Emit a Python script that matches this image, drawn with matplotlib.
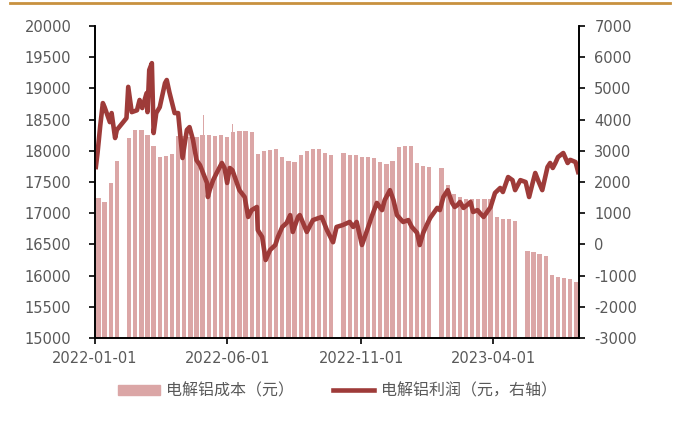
import numpy as np
import pandas as pd
import matplotlib
matplotlib.use("Agg")
import matplotlib.pyplot as plt
import matplotlib.dates as mdates
from matplotlib.lines import Line2D

plt.rcParams['font.family'] = ['DejaVu Sans']
plt.rcParams['axes.unicode_minus'] = False

# weekly cost (left axis), week given by its Monday
cost_weeks = ["2022-01-03", "2022-01-10", "2022-01-17", "2022-01-24",
              "2022-02-07", "2022-02-14", "2022-02-21", "2022-02-28",
              "2022-03-07", "2022-03-14", "2022-03-21", "2022-03-28",
              "2022-04-04", "2022-04-11", "2022-04-18", "2022-04-25",
              "2022-05-02", "2022-05-09", "2022-05-16", "2022-05-23",
              "2022-05-30", "2022-06-06", "2022-06-13", "2022-06-20",
              "2022-06-27", "2022-07-04", "2022-07-11", "2022-07-18",
              "2022-07-25", "2022-08-01", "2022-08-08", "2022-08-15",
              "2022-08-22", "2022-08-29", "2022-09-05", "2022-09-12",
              "2022-09-19", "2022-09-26", "2022-10-10", "2022-10-17",
              "2022-10-24", "2022-10-31", "2022-11-07", "2022-11-14",
              "2022-11-21", "2022-11-28", "2022-12-05", "2022-12-12",
              "2022-12-19", "2022-12-26", "2023-01-02", "2023-01-09",
              "2023-01-16", "2023-01-30", "2023-02-06", "2023-02-13",
              "2023-02-20", "2023-02-27", "2023-03-06", "2023-03-13",
              "2023-03-20", "2023-03-27", "2023-04-03", "2023-04-10",
              "2023-04-17", "2023-04-24", "2023-05-08", "2023-05-15",
              "2023-05-22", "2023-05-29", "2023-06-05", "2023-06-12",
              "2023-06-19", "2023-06-26", "2023-07-03"]
cost_values = [17250, 17180, 17480, 17830,
               18200, 18330, 18340, 18260,
               18080, 17900, 17920, 17950,
               18230, 18230, 18220, 18220,
               18250, 18250, 18240, 18250,
               18220, 18300, 18320, 18310,
               18300, 17950, 18000, 18020,
               18030, 17900, 17830, 17820,
               17930, 18000, 18030, 18030,
               17970, 17930, 17960, 17940,
               17930, 17900, 17900, 17880,
               17820, 17790, 17830, 18060,
               18070, 18070, 17800, 17750,
               17740, 17730, 17450, 17300,
               17260, 17230, 17230, 17230,
               17230, 17230, 16940, 16910,
               16900, 16880, 16400, 16380,
               16350, 16320, 16010, 15980,
               15960, 15950, 15900]

# single-day spikes in cost
spike_days = ["2022-03-30", "2022-05-05", "2022-06-07", "2022-08-30"]
spike_values = [18300, 18570, 18430, 18060]

# profit (right axis)
profit_dates = ["2022-01-02", "2022-01-04", "2022-01-07", "2022-01-10", "2022-01-12",
                "2022-01-18", "2022-01-20", "2022-01-24", "2022-01-26", "2022-02-06",
                "2022-02-08", "2022-02-12", "2022-02-18", "2022-02-21", "2022-02-24",
                "2022-03-01", "2022-03-02", "2022-03-04", "2022-03-07", "2022-03-09",
                "2022-03-12", "2022-03-16", "2022-03-22", "2022-03-24", "2022-03-27",
                "2022-04-02", "2022-04-06", "2022-04-11", "2022-04-16", "2022-04-19",
                "2022-04-23", "2022-04-27", "2022-05-01", "2022-05-09", "2022-05-10",
                "2022-05-12", "2022-05-16", "2022-05-20", "2022-05-26", "2022-05-29",
                "2022-06-01", "2022-06-04", "2022-06-07", "2022-06-15", "2022-06-21",
                "2022-06-25", "2022-06-29", "2022-07-05", "2022-07-06", "2022-07-11",
                "2022-07-15", "2022-07-20", "2022-07-26", "2022-07-29", "2022-08-03",
                "2022-08-08", "2022-08-12", "2022-08-15", "2022-08-21", "2022-08-23",
                "2022-08-31", "2022-09-07", "2022-09-17", "2022-09-23", "2022-09-30",
                "2022-10-04", "2022-10-11", "2022-10-19", "2022-10-23", "2022-10-27",
                "2022-11-02", "2022-11-08", "2022-11-13", "2022-11-19", "2022-11-25",
                "2022-11-28", "2022-12-04", "2022-12-08", "2022-12-12", "2022-12-19",
                "2022-12-25", "2022-12-29", "2023-01-04", "2023-01-07", "2023-01-11",
                "2023-01-15", "2023-01-19", "2023-01-27", "2023-01-30", "2023-02-03",
                "2023-02-08", "2023-02-13", "2023-02-16", "2023-02-19", "2023-02-22",
                "2023-02-26", "2023-03-02", "2023-03-06", "2023-03-09", "2023-03-14",
                "2023-03-17", "2023-03-21", "2023-03-25", "2023-03-29", "2023-04-03",
                "2023-04-09", "2023-04-12", "2023-04-18", "2023-04-23", "2023-04-26",
                "2023-05-02", "2023-05-08", "2023-05-12", "2023-05-16", "2023-05-19",
                "2023-05-23", "2023-05-27", "2023-06-02", "2023-06-05", "2023-06-08",
                "2023-06-11", "2023-06-14", "2023-06-20", "2023-06-25", "2023-06-28",
                "2023-07-04", "2023-07-07"]
profit_values = [2480, 2950, 3800, 4530, 4400,
                 3920, 4210, 3410, 3670, 4050,
                 5050, 4240, 4300, 4630, 4370,
                 4850, 4240, 5590, 5810, 3570,
                 4210, 4400, 5170, 5270, 4880,
                 4210, 4210, 2770, 3670, 3760,
                 3350, 2700, 2540, 1970, 1520,
                 1740, 2060, 2290, 2610, 2450,
                 1970, 2450, 2380, 1740, 1520,
                 880, 1100, 1200, 460, 240,
                 -500, -180, -20, 240, 560,
                 690, 940, 400, 880, 940,
                 400, 780, 880, 460, 70,
                 560, 620, 720, 560, 720,
                 -20, 460, 880, 1330, 1100,
                 1420, 1740, 1420, 940, 720,
                 780, 560, 370, -20, 370,
                 620, 850, 1170, 1100, 1520,
                 1740, 1330, 1200, 1260, 1360,
                 1170, 1260, 1360, 1040, 1100,
                 1000, 880, 1040, 1200, 1650,
                 1810, 1680, 2160, 2060, 1740,
                 2060, 2000, 1520, 1970, 2290,
                 2000, 1740, 2480, 2610, 2450,
                 2610, 2800, 2930, 2610, 2710,
                 2640, 2320]

x_ticks = ["2022-01-01", "2022-06-01", "2022-11-01", "2023-04-01"]

bar_color = '#DBA6A6'
line_color = '#9E3B39'
text_color = '#595959'

fig = plt.figure(figsize=(6.75, 4.21), dpi=100)
ax = fig.add_axes([0.1407, 0.1971, 0.7171, 0.7411])
ax2 = ax.twinx()

wk = mdates.date2num(pd.to_datetime(cost_weeks)) - 0.45
ax.bar(wk, np.array(cost_values) - 15000, bottom=15000, width=4.9,
       align='edge', color=bar_color, linewidth=0)
sp = mdates.date2num(pd.to_datetime(spike_days)) - 0.45
ax.bar(sp, np.array(spike_values) - 15000, bottom=15000, width=0.9,
       align='edge', color=bar_color, linewidth=0)

ax2.plot(pd.to_datetime(profit_dates), profit_values, color=line_color,
         linewidth=3.3, solid_joinstyle='round')

ax.set_xlim(mdates.date2num(pd.Timestamp("2022-01-01")),
            mdates.date2num(pd.Timestamp("2023-07-08")))
ax.set_ylim(15000, 20000)
ax.set_yticks(np.arange(15000, 20001, 500))
ax2.set_ylim(-3000, 7000)
ax2.set_yticks(np.arange(-3000, 7001, 1000))

xt = mdates.date2num(pd.to_datetime(x_ticks))
ax.set_xticks(xt)
ax.set_xticklabels(x_ticks)

for a in (ax, ax2):
    a.spines['top'].set_visible(False)
    for s in ('left', 'right', 'bottom'):
        a.spines[s].set_linewidth(1.2)
        a.spines[s].set_color('black')
ax.tick_params(axis='y', direction='out', length=4, width=1.2, pad=13,
               labelsize=10.5, labelcolor=text_color)
ax.tick_params(axis='x', direction='out', length=4, width=1.2, pad=5,
               labelsize=10.5, labelcolor=text_color)
ax2.tick_params(axis='y', direction='out', length=4, width=1.2, pad=7,
                labelsize=10.5, labelcolor=text_color)

# orange rule at the top
fig.add_artist(Line2D([10 / 675, 670 / 675], [0.993, 0.993],
                      transform=fig.transFigure, color='#C8913F', linewidth=2))

handles = [plt.Rectangle((0, 0), 1, 1, color=bar_color),
           Line2D([0], [0], color=line_color, linewidth=3.3)]
labels = ['电解铝成本（元）', '电解铝利润（元，右轴）']
fig.legend(handles, labels, loc='center', bbox_to_anchor=(0.5, 0.071), ncol=2,
           frameon=False, handlelength=2.6, handleheight=0.6, handletextpad=0.4,
           columnspacing=2.4,
           prop={'family': ['Noto Sans CJK SC', 'DejaVu Sans'], 'size': 11.5},
           labelcolor=text_color)

fig.savefig("out.png", dpi=100)
